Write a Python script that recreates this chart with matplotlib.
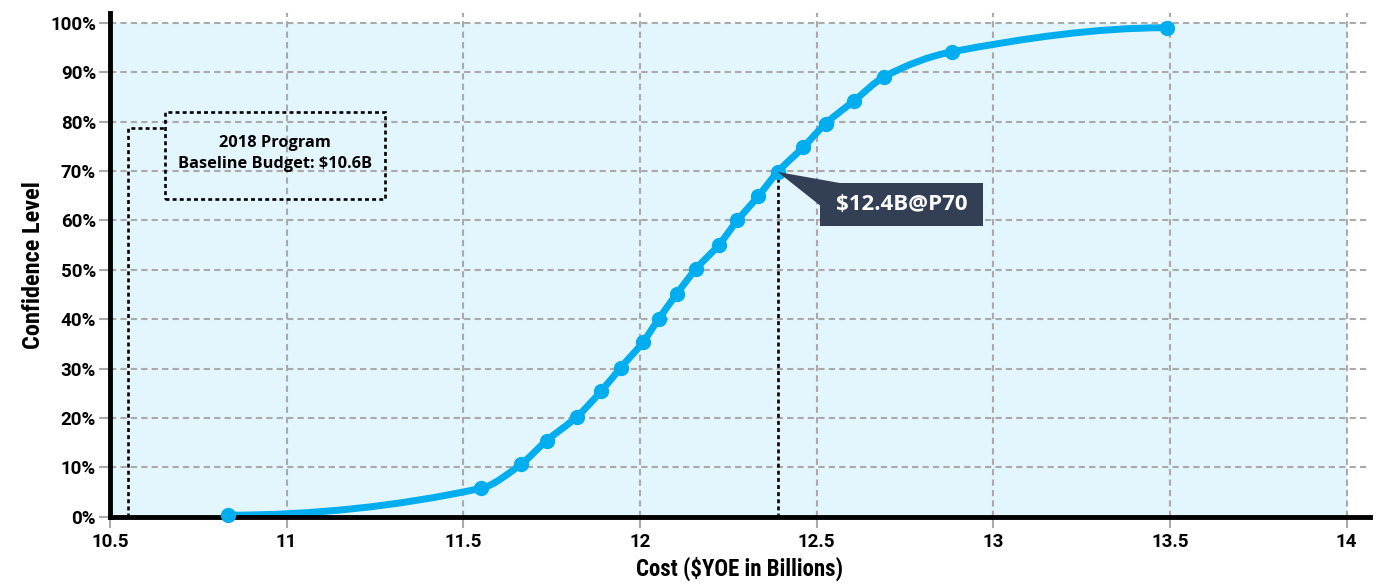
import matplotlib
matplotlib.use("Agg")
import matplotlib.pyplot as plt
from matplotlib.font_manager import FontProperties
from matplotlib.path import Path
from matplotlib.patches import PathPatch, Rectangle, Polygon
from matplotlib.ticker import FuncFormatter

# ---- data ----
cost = [10.834, 11.55, 11.663, 11.736, 11.821, 11.89, 11.946, 12.008, 12.053,
        12.104, 12.158, 12.224, 12.276, 12.335, 12.39, 12.462, 12.526, 12.606,
        12.692, 12.882, 13.491]
confidence = [0.3, 5.75, 10.6, 15.4, 20.2, 25.4, 30.2, 35.3, 40.0,
              45.1, 50.1, 55.1, 60.0, 64.9, 69.8, 74.8, 79.6, 84.2,
              89.1, 94.1, 99.0]
x_ticks = [10.5, 11, 11.5, 12, 12.5, 13, 13.5, 14]
y_ticks = [0, 10, 20, 30, 40, 50, 60, 70, 80, 90, 100]
budget_cost = 10.551
budget_conf = 78.6
p70_cost = 12.39
p70_conf = 69.8
budget_text = "2018 Program\nBaseline Budget: $10.6B"
callout_text = "$12.4B@P70"
x_label = "Cost ($YOE in Billions)"
y_label = "Confidence Level"

LINE = "#00AEEF"
BG = "#E3F5FD"
GRID = "#AAAAAA"
NAVY = "#323F55"


def font(families, size, weight="bold"):
    return FontProperties(family=families + ["DejaVu Sans"], weight=weight, size=size)


COND = ["Roboto Condensed"]
TICK = ["Roboto"]
WIDE = ["Open Sans"]

fig = plt.figure(figsize=(13.76, 5.86), dpi=100)
ax = fig.add_axes([0.0799, 0.1183, 0.9157, 0.8597])
ax.set_xlim(10.5, 14.066)
ax.set_ylim(0, 102)
ax.set_facecolor("white")

ax.add_patch(Rectangle((10.5, 0), 3.5, 100, facecolor=BG, edgecolor="none", zorder=0))

ax.set_xticks(x_ticks)
ax.set_yticks(y_ticks)
ax.xaxis.set_major_formatter(FuncFormatter(lambda v, p: f"{v:g}"))
ax.yaxis.set_major_formatter(FuncFormatter(lambda v, p: f"{v:.0f}%"))
ax.grid(True, color=GRID, linestyle=(0, (3, 2)), linewidth=1.5, zorder=1)
ax.tick_params(axis="both", colors=GRID, length=8, width=1.5, labelcolor="black")
ax.tick_params(axis="x", pad=4)
ax.tick_params(axis="y", pad=2)
tick_fp = font(TICK, 13.5)
for lab in ax.get_xticklabels() + ax.get_yticklabels():
    lab.set_fontproperties(tick_fp)

for s in ["top", "right"]:
    ax.spines[s].set_visible(False)
for s in ["left", "bottom"]:
    ax.spines[s].set_linewidth(3.5)
    ax.spines[s].set_color("black")
    ax.spines[s].set_zorder(5)

ax.set_xlabel(x_label, fontproperties=font(COND, 16.5), labelpad=4)
ax.set_ylabel(y_label, fontproperties=font(COND, 17.5), labelpad=4)

# smooth monotone curve through the data points, drawn as Bezier segments
n = len(cost)
h = [cost[k + 1] - cost[k] for k in range(n - 1)]
d = [(confidence[k + 1] - confidence[k]) / h[k] for k in range(n - 1)]
m = [0.0] * n
for k in range(1, n - 1):
    if d[k - 1] * d[k] <= 0:
        m[k] = 0.0
    else:
        w1 = 2 * h[k] + h[k - 1]
        w2 = h[k] + 2 * h[k - 1]
        m[k] = (w1 + w2) / (w1 / d[k - 1] + w2 / d[k])


def end_slope(h0, h1, d0, d1):
    s = ((2 * h0 + h1) * d0 - h0 * d1) / (h0 + h1)
    if s * d0 <= 0:
        return 0.0
    if d0 * d1 <= 0 and abs(s) > abs(3 * d0):
        return 3 * d0
    return s


m[0] = end_slope(h[0], h[1], d[0], d[1])
m[-1] = end_slope(h[-1], h[-2], d[-1], d[-2])
verts = [(cost[0], confidence[0])]
codes = [Path.MOVETO]
for k in range(n - 1):
    verts += [(cost[k] + h[k] / 3, confidence[k] + m[k] * h[k] / 3),
              (cost[k + 1] - h[k] / 3, confidence[k + 1] - m[k + 1] * h[k] / 3),
              (cost[k + 1], confidence[k + 1])]
    codes += [Path.CURVE4] * 3
ax.add_patch(PathPatch(Path(verts, codes), facecolor="none", edgecolor=LINE,
                       linewidth=5, capstyle="round", joinstyle="round", zorder=4))
ax.plot(cost, confidence, linestyle="none", marker="o", markersize=10,
        color=LINE, zorder=6, clip_on=False)

# P70 dashed drop line
ax.plot([p70_cost, p70_cost], [0, p70_conf], color="black", linestyle=(0, (1.5, 1.2)),
        linewidth=1.9, zorder=3)

# baseline budget marker
ax.plot([budget_cost, budget_cost, 10.656], [0, budget_conf, budget_conf],
        color="black", linestyle=(0, (1.5, 1.2)), linewidth=1.9, zorder=3)
ax.add_patch(Rectangle((10.656, 64.3), 11.279 - 10.656, 82.0 - 64.3, facecolor="none",
                       edgecolor="black", linestyle=(0, (1.5, 1.2)), linewidth=1.9, zorder=3))
ax.text(10.967, 73.6, budget_text, ha="center", va="center",
        fontproperties=font(WIDE, 11.8), linespacing=1.4, zorder=7)

# callout
ax.add_patch(Polygon([(p70_cost, p70_conf), (12.57, 67.5), (12.51, 63.0)],
                     closed=True, facecolor=NAVY, edgecolor="none", zorder=7))
ax.add_patch(Rectangle((12.51, 58.8), 12.971 - 12.51, 67.5 - 58.8, facecolor=NAVY,
                       edgecolor="none", zorder=7))
ax.text(12.74, 63.15, callout_text, ha="center", va="center", color="white",
        fontproperties=font(WIDE, 16), zorder=8)

fig.savefig("out.png", dpi=100)
